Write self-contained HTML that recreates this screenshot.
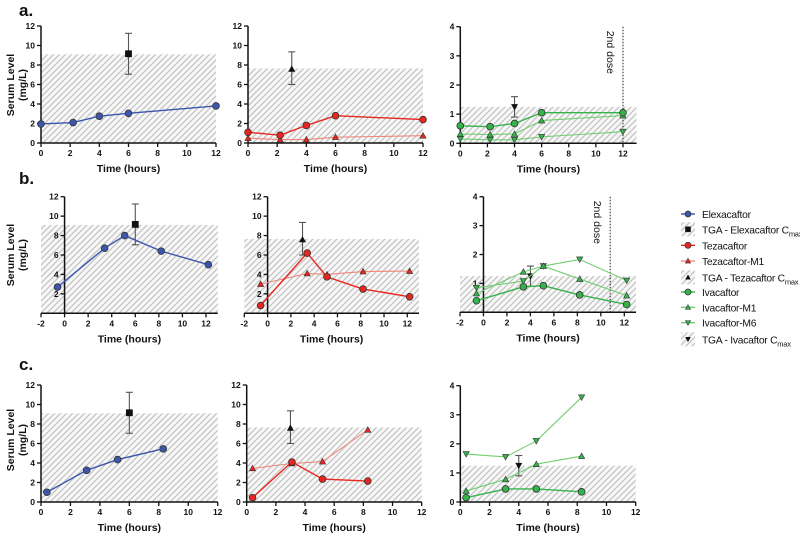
<!DOCTYPE html>
<html><head><meta charset="utf-8">
<style>
html,body{margin:0;padding:0;background:#fff;}
svg{display:block;font-family:"Liberation Sans",sans-serif;}
.tk{font-size:8.5px;font-weight:bold;fill:#111;}
.ttl{font-size:10.5px;font-weight:bold;fill:#111;}
.lg{font-size:10.3px;fill:#111;letter-spacing:-0.25px;}
</style></head>
<body>
<svg id="chart" width="800" height="535" viewBox="0 0 800 535" xmlns="http://www.w3.org/2000/svg">
<defs>
<pattern id="hatch" patternUnits="userSpaceOnUse" width="6" height="6">
<rect width="6" height="6" fill="#f8f8f8"/>
<path d="M-1,7 L7,-1 M-2,2 L2,-2 M4,8 L8,4" stroke="#c4c4c4" stroke-width="1.3"/>
</pattern>
</defs>
<g id="root"></g>
</svg>
<script>
// ---- data (row a) ----
const aElexT=[0,2.2,4,6,12], aElex=[1.95,2.1,2.75,3.05,3.8];
const aTezaT=[0,2.2,4,6,12], aTeza=[1.1,0.8,1.8,2.8,2.4];
const aTezaM1T=[0,2.2,4,6,12], aTezaM1=[0.5,0.35,0.35,0.6,0.75];
const aIvaT=[0,2.2,4,6,12], aIva=[0.6,0.57,0.68,1.05,1.05];
const aIvaM1T=[0,2.2,4,6,12], aIvaM1=[0.32,0.3,0.32,0.78,0.95];
const aIvaM6T=[0,2.2,4,6,12], aIvaM6=[0.15,0.12,0.12,0.22,0.4];
// ---- data (row b) ----
const bT=[-0.6,3.4,5.1,8.2,12.2];
const bElex=[2.7,6.7,8.0,6.4,5.0];
const bTeza=[0.8,6.2,3.75,2.5,1.7];
const bTezaM1=[3.0,4.1,4.0,4.3,4.35];
const bIva=[0.4,0.88,0.92,0.6,0.27];
const bIvaM1=[0.65,1.4,1.6,1.15,0.58];
const bIvaM6=[0.85,1.08,1.6,1.83,1.1];
// ---- data (row c) ----
const cT=[0.4,3.1,5.2,8.3];
const cElex=[1.0,3.25,4.35,5.45];
const cTeza=[0.45,4.1,2.35,2.15];
const cTezaM1=[3.45,3.95,4.15,7.4];
const cIva=[0.15,0.45,0.45,0.35];
const cIvaM1=[0.38,0.78,1.3,1.58];
const cIvaM6=[1.65,1.55,2.1,3.6];
// ---- reference Cmax (TGA): [time, mean, low, high] and shaded level ----
const elexCmax=[6,9.15,7.05,11.25];
const tezaCmax=[3,7.6,6.0,9.35];
const ivaCmax=[4,1.25,0.9,1.6];
const elexBand=9.1, tezaBand=7.65, ivaBand=1.25;
const secondDoseA=12, secondDoseB=10.8;
const xTicksA=[0,2,4,6,8,10,12], xTicksB=[-2,0,2,4,6,8,10,12];
const yTicksBig=[0,2,4,6,8,10,12], yTicksBigB=[2,4,6,8,10,12], yTicksSmall=[0,1,2,3,4];

const NS="http://www.w3.org/2000/svg";
const root=document.getElementById('root');
function mk(tag,attrs,parent){const e=document.createElementNS(NS,tag);for(const k in attrs)e.setAttribute(k,attrs[k]);(parent||root).appendChild(e);return e;}

const BLUE='#3d56ad', RED='#e8261f', LRED='#f0877a', GREEN='#34b34a', LGREEN='#72cd72';

function panel(name,g){
  const grp=mk('g',{});
  
  
  const sx=v=>g.px0+(v-g.xa)*(g.px1-g.px0)/(g.xb-g.xa);
  const sy=v=>g.py0-(v)*(g.py0-g.py1)/g.ymax;
  g.sx=sx;g.sy=sy;g.grp=grp;
  const band=mk('rect',{x:sx(g.xmin),y:sy(g.band),width:sx(g.xmax)-sx(g.xmin),height:sy(0)-sy(g.band),fill:'url(#hatch)'},grp);
  
  
  const yax=sx(g.yAxisAt);
  const ya=mk('line',{x1:yax,x2:yax,y1:sy(g.ymax),y2:sy(0),stroke:'#111','stroke-width':1.5},grp);
  
  
  const xa=mk('line',{x1:sx(g.xmin),x2:sx(g.xmax),y1:sy(0),y2:sy(0),stroke:'#111','stroke-width':1.5},grp);
  
  
  g.xticks.forEach(t=>{
    mk('line',{x1:sx(t),x2:sx(t),y1:sy(0),y2:sy(0)+4,stroke:'#111','stroke-width':1.3},grp);
    const tx=mk('text',{x:sx(t),y:sy(0)+13,'text-anchor':'middle',class:'tk'},grp);tx.textContent=t;
    
    
  });
  g.yticks.forEach(t=>{
    mk('line',{x1:yax-4,x2:yax,y1:sy(t),y2:sy(t),stroke:'#111','stroke-width':1.3},grp);
    const tx=mk('text',{x:yax-6,y:sy(t)+3,'text-anchor':'end',class:'tk'},grp);tx.textContent=t;
    
    
  });
  const xt=mk('text',{x:(sx(g.xmin)+sx(g.xmax))/2,y:sy(0)+29,'text-anchor':'middle',class:'ttl'},grp);
  xt.textContent='Time (hours)';
  
  
  if(g.dose!==undefined){
    const dl=mk('line',{x1:sx(g.dose),x2:sx(g.dose),y1:sy(g.ymax),y2:sy(0),stroke:'#333','stroke-width':1.1,'stroke-dasharray':'1.5,1.5'},grp);
    
    
    const lt=mk('text',{x:0,y:0,transform:`translate(${sx(g.dose)-16},${sy(g.ymax)+4}) rotate(90)`,'font-size':'10.5px',fill:'#111'},grp);
    lt.textContent='2nd dose';
    
    
  }
  return g;
}
function marker(grp,shape,x,y,fill,s){
  s=s||3.4;
  if(shape==='circle')return mk('circle',{cx:x,cy:y,r:s,fill:fill,stroke:'#333','stroke-width':0.8},grp);
  if(shape==='square')return mk('rect',{x:x-s,y:y-s,width:2*s,height:2*s,fill:fill},grp);
  if(shape==='up')return mk('polygon',{points:`${x},${y-s} ${x-s},${y+s*0.8} ${x+s},${y+s*0.8}`,fill:fill,stroke:fill==='#111'?'none':'#333','stroke-width':0.6},grp);
  if(shape==='down')return mk('polygon',{points:`${x},${y+s} ${x-s},${y-s*0.8} ${x+s},${y-s*0.8}`,fill:fill,stroke:fill==='#111'?'none':'#333','stroke-width':0.6},grp);
}
function series(g,name,ts,vs,color,lineColor,shape,lw){
  const grp=mk('g',{},g.grp);
  
  
  const pts=ts.map((t,i)=>g.sx(t)+','+g.sy(vs[i])).join(' ');
  mk('polyline',{points:pts,fill:'none',stroke:lineColor,'stroke-width':lw||1.4},grp);
  ts.forEach((t,i)=>{
    const m=marker(grp,shape,g.sx(t),g.sy(vs[i]),color,shape==='circle'?3.4:3.1);
    
    
  });
}
function cmax(g,name,d,shape){
  const grp=mk('g',{},g.grp);
  
  
  const x=g.sx(d[0]);
  mk('line',{x1:x,x2:x,y1:g.sy(d[2]),y2:g.sy(d[3]),stroke:'#555','stroke-width':1.1},grp);
  mk('line',{x1:x-3.5,x2:x+3.5,y1:g.sy(d[2]),y2:g.sy(d[2]),stroke:'#555','stroke-width':1.1},grp);
  mk('line',{x1:x-3.5,x2:x+3.5,y1:g.sy(d[3]),y2:g.sy(d[3]),stroke:'#555','stroke-width':1.1},grp);
  const m=marker(grp,shape,x,g.sy(d[1]),'#111',shape==='square'?3.4:3.5);
  
  
}
function label(txt,x,y){const t=mk('text',{x:x,y:y,'font-size':'17px','font-weight':'bold',fill:'#111'});t.textContent=txt;
  
  }
function ytitle(cy){
  const t=mk('text',{transform:`translate(14,${cy}) rotate(-90)`,'text-anchor':'middle',class:'ttl'});
  
  
  const s1=mk('tspan',{x:0,dy:0},t);s1.textContent='Serum Level';
  const s2=mk('tspan',{x:0,dy:12},t);s2.textContent='(mg/L)';
}

// ---- row a ----
label('a.',19,16);
let p=panel('panel-a-elexacaftor',{px0:41,px1:216,xa:0,xb:12,xmin:0,xmax:12,yAxisAt:0,py0:143,py1:26,ymax:12,xticks:xTicksA,yticks:yTicksBig,band:elexBand});
cmax(p,'tga-elexacaftor-cmax',elexCmax,'square');
series(p,'elexacaftor',aElexT,aElex,BLUE,BLUE,'circle');
p=panel('panel-a-tezacaftor',{px0:248,px1:423,xa:0,xb:12,xmin:0,xmax:12,yAxisAt:0,py0:143,py1:26,ymax:12,xticks:xTicksA,yticks:yTicksBig,band:tezaBand});
cmax(p,'tga-tezacaftor-cmax',tezaCmax,'up');
series(p,'tezacaftor-m1',aTezaM1T,aTezaM1,RED,LRED,'up',1.1);
series(p,'tezacaftor',aTezaT,aTeza,RED,RED,'circle');
p=panel('panel-a-ivacaftor',{px0:460.3,px1:623,xa:0,xb:12,xmin:0,xmax:13,yAxisAt:0,py0:143.3,py1:26.7,ymax:4,xticks:xTicksA,yticks:yTicksSmall,band:ivaBand,dose:secondDoseA});
cmax(p,'tga-ivacaftor-cmax',ivaCmax,'down');
series(p,'ivacaftor-m6',aIvaM6T,aIvaM6,GREEN,LGREEN,'down',1.1);
series(p,'ivacaftor-m1',aIvaM1T,aIvaM1,GREEN,LGREEN,'up',1.1);
series(p,'ivacaftor',aIvaT,aIva,GREEN,GREEN,'circle');
ytitle(85);

// ---- row b ----
label('b.',19,184);
p=panel('panel-b-elexacaftor',{px0:41,px1:206,xa:-2,xb:12,xmin:-2,xmax:13,yAxisAt:0,py0:313.3,py1:196.7,ymax:12,xticks:xTicksB,yticks:yTicksBigB,band:elexBand});
cmax(p,'tga-elexacaftor-cmax',elexCmax,'square');
series(p,'elexacaftor',bT,bElex,BLUE,BLUE,'circle');
p=panel('panel-b-tezacaftor',{px0:244.3,px1:407.3,xa:-2,xb:12,xmin:-2,xmax:13,yAxisAt:0,py0:313.3,py1:196.7,ymax:12,xticks:xTicksB,yticks:yTicksBigB,band:tezaBand});
cmax(p,'tga-tezacaftor-cmax',tezaCmax,'up');
series(p,'tezacaftor-m1',bT,bTezaM1,RED,LRED,'up',1.1);
series(p,'tezacaftor',bT,bTeza,RED,RED,'circle');
p=panel('panel-b-ivacaftor',{px0:460,px1:624.3,xa:-2,xb:12,xmin:-2,xmax:13,yAxisAt:0,py0:312.3,py1:196.7,ymax:4,xticks:xTicksB,yticks:[1,2,3,4],band:ivaBand,dose:secondDoseB});
cmax(p,'tga-ivacaftor-cmax',ivaCmax,'down');
series(p,'ivacaftor-m6',bT,bIvaM6,GREEN,LGREEN,'down',1.1);
series(p,'ivacaftor-m1',bT,bIvaM1,GREEN,LGREEN,'up',1.1);
series(p,'ivacaftor',bT,bIva,GREEN,GREEN,'circle');
ytitle(255);

// ---- row c ----
label('c.',19,370);
p=panel('panel-c-elexacaftor',{px0:41,px1:217.7,xa:0,xb:12,xmin:0,xmax:12,yAxisAt:0,py0:502,py1:385,ymax:12,xticks:xTicksA,yticks:yTicksBig,band:elexBand});
cmax(p,'tga-elexacaftor-cmax',elexCmax,'square');
series(p,'elexacaftor',cT,cElex,BLUE,BLUE,'circle');
p=panel('panel-c-tezacaftor',{px0:246.7,px1:421.7,xa:0,xb:12,xmin:0,xmax:12,yAxisAt:0,py0:502,py1:385,ymax:12,xticks:xTicksA,yticks:yTicksBig,band:tezaBand});
cmax(p,'tga-tezacaftor-cmax',tezaCmax,'up');
series(p,'tezacaftor-m1',cT,cTezaM1,RED,LRED,'up',1.1);
series(p,'tezacaftor',cT,cTeza,RED,RED,'circle');
p=panel('panel-c-ivacaftor',{px0:460.3,px1:635.7,xa:0,xb:12,xmin:0,xmax:12,yAxisAt:0,py0:502,py1:385.7,ymax:4,xticks:xTicksA,yticks:yTicksSmall,band:ivaBand});
cmax(p,'tga-ivacaftor-cmax',ivaCmax,'down');
series(p,'ivacaftor-m6',cT,cIvaM6,GREEN,LGREEN,'down',1.1);
series(p,'ivacaftor-m1',cT,cIvaM1,GREEN,LGREEN,'up',1.1);
series(p,'ivacaftor',cT,cIva,GREEN,GREEN,'circle');
ytitle(440);

// ---- legend ----
const legendNames=['Elexacaftor','TGA - Elexacaftor C','Tezacaftor','Tezacaftor-M1','TGA - Tezacaftor C','Ivacaftor','Ivacaftor-M1','Ivacaftor-M6','TGA - Ivacaftor C'];
const legY=[214,229.3,245.3,261,277.3,292,307.3,322.7,339.3];
const legStyle=[['line',BLUE,'circle',BLUE],['hatch','#111','square'],['line',RED,'circle',RED],['line',LRED,'up',RED],['hatch','#111','up'],['line',GREEN,'circle',GREEN],['line',LGREEN,'up',GREEN],['line',LGREEN,'down',GREEN],['hatch','#111','down']];
const lg=mk('g',{});


legendNames.forEach((n,i)=>{
  const e=mk('g',{},lg);
  
  
  const y=legY[i],st=legStyle[i];
  if(st[0]==='line'){mk('line',{x1:681,x2:695,y1:y,y2:y,stroke:st[1],'stroke-width':1.4},e);marker(e,st[2],688,y,st[3],st[2]==='circle'?3:2.6);}
  else{mk('rect',{x:681,y:y-7,width:14,height:14,fill:'url(#hatch)'},e);marker(e,st[2],688,y,'#111',2.8);}
  const t=mk('text',{x:702,y:y+4,class:'lg'},e);t.textContent=n;
  if(n.endsWith(' C')){const s=mk('tspan',{'font-size':'7.5px',dy:3},t);s.textContent='max';}
});
</script>
</body></html>
